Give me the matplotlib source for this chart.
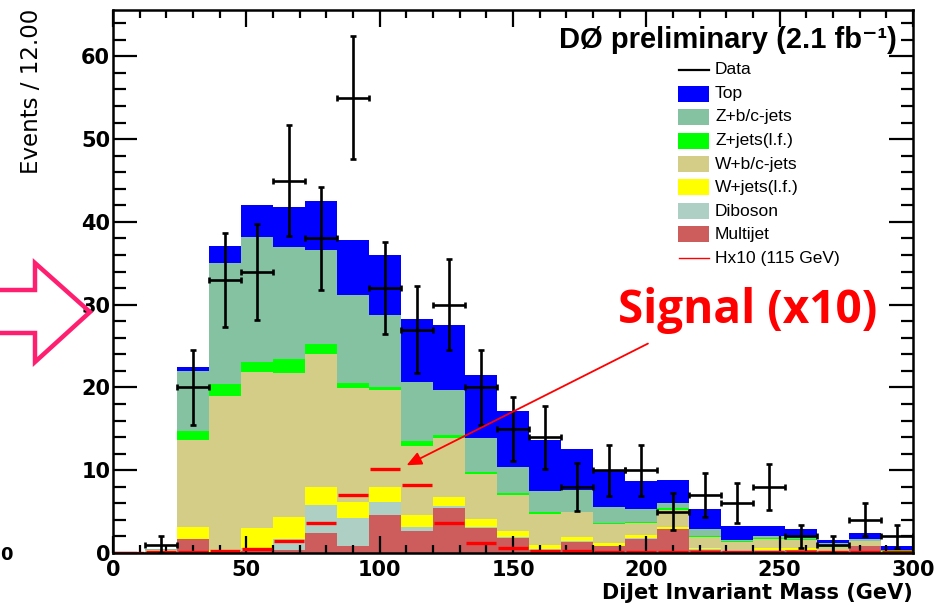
import numpy as np
import matplotlib
matplotlib.use("Agg")
import matplotlib.pyplot as plt
from matplotlib.patches import Polygon, Rectangle
from matplotlib.lines import Line2D
from matplotlib.ticker import MultipleLocator

# ---------------- data ----------------
bin_edges = np.arange(0, 301, 12)
bin_width = 12

multijet = [0, 0.1, 1.7, 0.1, 0.3, 0.4, 2.4, 0.9, 4.6, 2.7, 5.4, 3.0, 1.8, 0.4, 1.35, 0.8, 1.75, 2.9, 0.4, 0.3, 0.3, 0.35, 0.2, 0.8, 0.1]
diboson = [0, 0.15, 0, 0.05, 0.3, 1.3, 3.4, 3.3, 1.6, 0.5, 0.3, 0.2, 0.1, 0.05, 0.05, 0.05, 0.05, 0.05, 0.05, 0.02, 0.02, 0.05, 0.02, 0.05, 0.02]
w_lf = [0, 0.05, 1.5, 0.25, 2.4, 2.7, 2.2, 2.0, 1.8, 1.4, 1.1, 0.9, 0.8, 0.55, 0.5, 0.35, 0.4, 0.25, 0.15, 0.08, 0.28, 0.2, 0.08, 0.05, 0.03]
w_bc = [0, 0.05, 10.4, 18.6, 18.9, 17.3, 16.0, 13.7, 11.7, 8.3, 7.1, 5.5, 4.3, 3.7, 3.0, 2.25, 1.4, 2.0, 1.3, 0.9, 1.1, 1.0, 0.4, 0.5, 0.15]
z_lf = [0, 0.03, 1.1, 1.4, 1.2, 1.7, 1.2, 0.6, 0.4, 0.6, 0.4, 0.15, 0.2, 0.2, 0.1, 0.15, 0.15, 0.2, 0.1, 0.1, 0.1, 0.1, 0.1, 0.1, 0.05]
z_bc = [0, 0.07, 7.3, 14.6, 15.1, 13.6, 11.4, 10.7, 8.7, 7.1, 5.4, 4.15, 3.2, 2.6, 2.6, 2.0, 1.55, 0.6, 0.9, 0.2, 0.2, 0.3, 0.4, 0.15, 0.05]
top = [0, 0.05, 0.5, 2.1, 3.9, 4.8, 5.9, 6.6, 7.2, 7.7, 7.9, 7.6, 6.7, 6.2, 5.0, 4.3, 3.4, 2.8, 2.4, 1.7, 1.3, 0.9, 0.4, 0.75, 0.45]

signal_x10 = [0, 0.1, 0.15, 0.3, 0.5, 1.4, 3.6, 7.0, 10.2, 8.2, 3.6, 1.2, 0.55, 0.3, 0.2, 0.15, 0.1, 0.1, 0.1, 0.1, 0.1, 0.1, 0.1, 0.1, 0.1]

data = [np.nan, 1, 20, 33, 34, 45, 38, 55, 32, 27, 30, 20, 15, 14, 8, 10, 10, 5, 7, 6, 8, 2, 1, 4, 2]
data_err = [np.nan, 1.0, 4.5, 5.7, 5.8, 6.7, 6.2, 7.4, 5.6, 5.2, 5.5, 4.5, 3.9, 3.8, 2.9, 3.1, 3.1, 2.2, 2.7, 2.4, 2.8, 1.4, 1.0, 2.0, 1.4]

components = [
    ("Multijet", multijet, "#cd5c5c"),
    ("Diboson", diboson, "#aecfc4"),
    ("W+jets(l.f.)", w_lf, "#ffff00"),
    ("W+b/c-jets", w_bc, "#d4cd88"),
    ("Z+jets(l.f.)", z_lf, "#00ff00"),
    ("Z+b/c-jets", z_bc, "#84c2a2"),
    ("Top", top, "#0000ff"),
]

# ---------------- figure ----------------
W, H = 947, 607
fig = plt.figure(figsize=(W / 100, H / 100), dpi=100)
L, R, B, T = 113, 913, 553, 10
ax = fig.add_axes([L / W, 1 - B / H, (R - L) / W, (B - T) / H])

lefts = bin_edges[:-1]
bottom = np.zeros(len(lefts))
for name, vals, col in components:
    v = np.array(vals, dtype=float)
    ax.bar(lefts, v, width=bin_width, bottom=bottom, align="edge",
           color=col, linewidth=0, antialiased=False, zorder=1)
    bottom = bottom + v

# signal
ax.hlines(signal_x10, lefts + 0.4, lefts + bin_width - 0.4, colors="#ff0000",
          linewidth=2.4, zorder=2)

# data
centers = lefts + bin_width / 2
ax.errorbar(centers, data, yerr=data_err, xerr=bin_width / 2, fmt="none",
            ecolor="black", elinewidth=1.9, capsize=2.3, capthick=1.9, zorder=3)

ax.set_xlim(0, 300)
ax.set_ylim(0, 65.6)

for s in ax.spines.values():
    s.set_linewidth(1.8)

ax.xaxis.set_major_locator(MultipleLocator(50))
ax.xaxis.set_minor_locator(MultipleLocator(10))
ax.yaxis.set_major_locator(MultipleLocator(10))
ax.yaxis.set_minor_locator(MultipleLocator(2))
ax.tick_params(axis="both", which="both", direction="in", top=True, right=True, width=1.6)
ax.tick_params(axis="x", which="major", length=12, pad=5)
ax.tick_params(axis="x", which="minor", length=6)
ax.tick_params(axis="y", which="major", length=17, pad=2)
ax.tick_params(axis="y", which="minor", length=9)
for lab in ax.get_xticklabels() + ax.get_yticklabels():
    lab.set_fontfamily("DejaVu Sans")
    lab.set_fontweight("bold")
    lab.set_fontsize(15)

# labels
fig.text(R / W, 1 - 593 / H, "DiJet Invariant Mass (GeV)", ha="right", va="center",
         fontsize=15, family="DejaVu Sans", fontweight="bold")
fig.text(32 / W, 1 - 174 / H, "Events / 12.00", rotation=90, ha="center", va="bottom",
         fontsize=16.5, family="DejaVu Sans")
fig.text(0 / W, 1 - 555 / H, "0", ha="left", va="center", fontsize=13,
         family="DejaVu Sans", fontweight="bold")

# title
fig.text(897 / W, 1 - 40 / H, "DØ preliminary (2.1 fb⁻¹)", ha="right", va="center",
         fontsize=21, family=["Liberation Sans", "DejaVu Sans"], fontweight="bold")

# legend (manual)
legend_rows = [("Data", "line", "black")] + [(n, "patch", c) for n, v, c in components[::-1]] + [("Hx10 (115 GeV)", "sline", "#ff0000")]
y0, dy = 70, 23.5
for i, (name, kind, col) in enumerate(legend_rows):
    yc = y0 + i * dy
    if kind == "patch":
        fig.patches.append(Rectangle((678 / W, 1 - (yc + 8) / H), 31 / W, 16 / H,
                                     transform=fig.transFigure, facecolor=col,
                                     edgecolor="none", figure=fig))
    else:
        lw = 1.6 if kind == "line" else 1.0
        fig.lines.append(Line2D([679 / W, 709 / W], [1 - yc / H, 1 - yc / H],
                                transform=fig.transFigure, color=col, lw=lw, figure=fig))
    fig.text(715 / W, 1 - yc / H, name, ha="left", va="center", fontsize=12.5,
             family="Liberation Sans")

# Signal annotation
ax.annotate("", xy=(110.1, 10.6), xytext=(200.6, 25.3),
            arrowprops=dict(arrowstyle="-|>,head_length=0.9,head_width=0.4",
                            color="#ff0000", lw=1.3, shrinkA=0, shrinkB=0))
fig.text(748 / W, 1 - 311 / H, "Signal (x10)", ha="center", va="center",
         fontsize=33, color="#ff0000", family="Open Sans", fontweight="bold")

# pink hollow arrow
pts = [(-10, 290), (35, 290), (35, 263), (90, 312), (35, 362), (35, 333), (-10, 333)]
fig.patches.append(Polygon([(x / W, 1 - y / H) for x, y in pts], closed=True,
                           transform=fig.transFigure, facecolor="none",
                           edgecolor="#ff1f70", linewidth=3.2, figure=fig))

fig.savefig("out.png", dpi=100)
